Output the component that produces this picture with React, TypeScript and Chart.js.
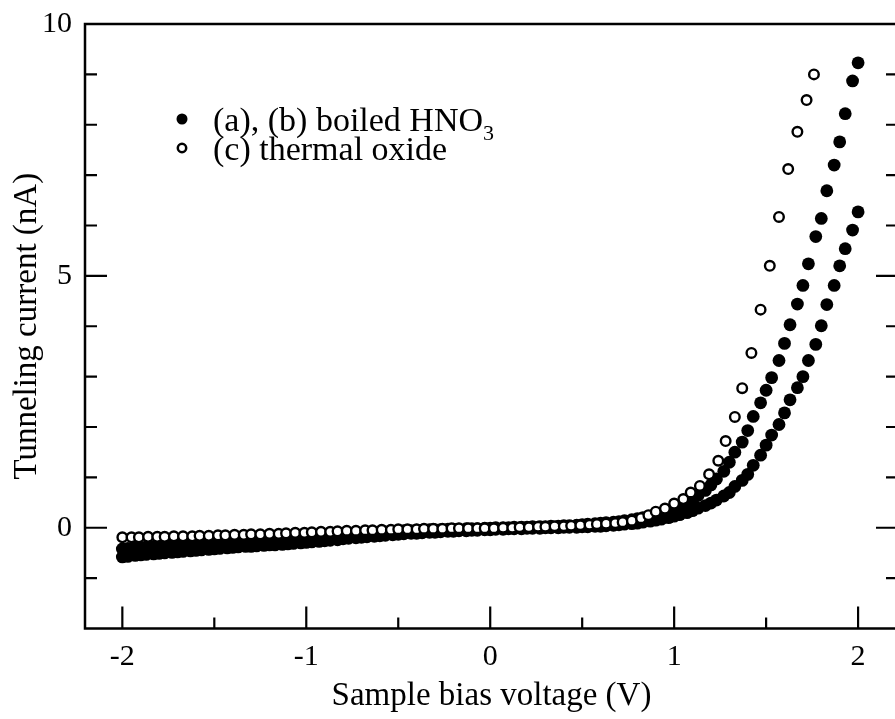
import React, { useEffect, useRef } from "react";
import { Chart, registerables } from "chart.js";

Chart.register(...registerables);

// ---------- data ----------
const X_FILLED = [
  -2.0, -1.97, -1.93, -1.9, -1.87, -1.83, -1.8, -1.77, -1.73, -1.7,
  -1.67, -1.63, -1.6, -1.57, -1.53, -1.5, -1.47, -1.43, -1.4, -1.37,
  -1.33, -1.3, -1.27, -1.23, -1.2, -1.17, -1.13, -1.1, -1.07, -1.03,
  -1.0, -0.97, -0.93, -0.9, -0.87, -0.83, -0.8, -0.77, -0.73, -0.7,
  -0.67, -0.63, -0.6, -0.57, -0.53, -0.5, -0.47, -0.43, -0.4, -0.37,
  -0.33, -0.3, -0.27, -0.23, -0.2, -0.17, -0.13, -0.1, -0.07, -0.03,
  0.0, 0.03, 0.07, 0.1, 0.13, 0.17, 0.2, 0.23, 0.27, 0.3,
  0.33, 0.37, 0.4, 0.43, 0.47, 0.5, 0.53, 0.57, 0.6, 0.63,
  0.67, 0.7, 0.73, 0.77, 0.8, 0.83, 0.87, 0.9, 0.93, 0.97,
  1.0, 1.03, 1.07, 1.1, 1.13, 1.17, 1.2, 1.23, 1.27, 1.3,
  1.33, 1.37, 1.4, 1.43, 1.47, 1.5, 1.53, 1.57, 1.6, 1.63,
  1.67, 1.7, 1.73, 1.77, 1.8, 1.83, 1.87, 1.9, 1.93, 1.97, 2.0,
];

// (a) boiled HNO3, upper branch
const Y_A = [
  -0.42, -0.41, -0.4, -0.39, -0.38, -0.37, -0.36, -0.35, -0.35, -0.34,
  -0.33, -0.32, -0.31, -0.31, -0.3, -0.29, -0.28, -0.28, -0.27, -0.26,
  -0.26, -0.25, -0.24, -0.24, -0.23, -0.22, -0.22, -0.21, -0.2, -0.2,
  -0.19, -0.18, -0.18, -0.17, -0.16, -0.15, -0.14, -0.13, -0.12, -0.11,
  -0.1, -0.09, -0.08, -0.08, -0.07, -0.07, -0.06, -0.06, -0.05, -0.05,
  -0.04, -0.04, -0.04, -0.03, -0.03, -0.03, -0.02, -0.02, -0.02, -0.01,
  -0.01, 0.0, 0.0, 0.0, 0.01, 0.01, 0.01, 0.02, 0.02, 0.02,
  0.03, 0.03, 0.04, 0.04, 0.05, 0.06, 0.07, 0.08, 0.09, 0.1,
  0.11, 0.12, 0.14, 0.16, 0.18, 0.2, 0.23, 0.26, 0.29, 0.33,
  0.38, 0.43, 0.49, 0.56, 0.64, 0.74, 0.85, 0.97, 1.12, 1.3,
  1.5, 1.7, 1.93, 2.21, 2.48, 2.73, 2.98, 3.32, 3.66, 4.03,
  4.44, 4.81, 5.24, 5.78, 6.14, 6.69, 7.2, 7.66, 8.22, 8.87, 9.23,
];

// (b) boiled HNO3, lower branch
const Y_B = [
  -0.58, -0.57, -0.55, -0.54, -0.53, -0.52, -0.51, -0.5, -0.49, -0.48,
  -0.47, -0.46, -0.45, -0.44, -0.43, -0.42, -0.41, -0.4, -0.39, -0.38,
  -0.37, -0.37, -0.36, -0.35, -0.34, -0.34, -0.33, -0.32, -0.31, -0.3,
  -0.29, -0.28, -0.27, -0.26, -0.25, -0.24, -0.22, -0.21, -0.2, -0.19,
  -0.18, -0.17, -0.16, -0.15, -0.14, -0.13, -0.12, -0.11, -0.11, -0.1,
  -0.09, -0.09, -0.08, -0.07, -0.07, -0.06, -0.06, -0.05, -0.05, -0.04,
  -0.04, -0.03, -0.03, -0.02, -0.02, -0.02, -0.01, -0.01, -0.01, 0.0,
  0.0, 0.0, 0.01, 0.01, 0.01, 0.02, 0.02, 0.03, 0.03, 0.04,
  0.05, 0.06, 0.07, 0.08, 0.09, 0.11, 0.13, 0.15, 0.17, 0.2,
  0.23, 0.26, 0.3, 0.34, 0.39, 0.44, 0.49, 0.55, 0.63, 0.7,
  0.82, 0.94, 1.06, 1.24, 1.44, 1.64, 1.84, 2.05, 2.28, 2.54,
  2.78, 3.0, 3.32, 3.64, 4.01, 4.43, 4.81, 5.2, 5.54, 5.91, 6.27,
];

const X_OPEN = [
  -2.0, -1.95, -1.91, -1.86, -1.81, -1.77, -1.72, -1.67, -1.62, -1.58,
  -1.53, -1.48, -1.44, -1.39, -1.34, -1.3, -1.25, -1.2, -1.15, -1.11,
  -1.06, -1.01, -0.97, -0.92, -0.87, -0.83, -0.78, -0.73, -0.68, -0.64,
  -0.59, -0.54, -0.5, -0.45, -0.4, -0.36, -0.31, -0.26, -0.21, -0.17,
  -0.12, -0.07, -0.03, 0.02, 0.07, 0.12, 0.16, 0.21, 0.26, 0.3,
  0.35, 0.4, 0.44, 0.49, 0.54, 0.58, 0.63, 0.68, 0.72, 0.77,
  0.82, 0.86, 0.9, 0.95, 1.0, 1.05, 1.09, 1.14, 1.19, 1.24,
  1.28, 1.33, 1.37, 1.42, 1.47, 1.52, 1.57, 1.62, 1.67, 1.72,
  1.76,
];

// (c) thermal oxide
const Y_C = [
  -0.19, -0.19, -0.19, -0.18, -0.18, -0.18, -0.17, -0.17, -0.17, -0.16,
  -0.16, -0.15, -0.15, -0.14, -0.14, -0.13, -0.13, -0.12, -0.12, -0.11,
  -0.1, -0.1, -0.09, -0.08, -0.08, -0.07, -0.06, -0.06, -0.05, -0.05,
  -0.04, -0.04, -0.03, -0.03, -0.03, -0.02, -0.02, -0.02, -0.01, -0.01,
  -0.01, -0.01, -0.01, -0.01, 0.0, 0.0, 0.01, 0.01, 0.02, 0.02,
  0.03, 0.03, 0.04, 0.05, 0.06, 0.07, 0.08, 0.09, 0.11, 0.14,
  0.19, 0.25, 0.32, 0.38, 0.48, 0.57, 0.7, 0.83, 1.06, 1.33,
  1.72, 2.2, 2.77, 3.47, 4.33, 5.2, 6.17, 7.12, 7.86, 8.49,
  9.0,
];

const X_TICK_LABELS = [-2, -1, 0, 1, 2];
const Y_TICK_LABELS = [0, 5, 10];
const X_MINOR_STEP = 0.5;
const Y_MINOR_STEP = 1;
const X_MIN = -2.203;
const X_MAX = 2.217;
const Y_MIN = -2;
const Y_MAX = 10;

const X_TITLE = "Sample bias voltage (V)";
const Y_TITLE = "Tunneling current (nA)";
const LEGEND_A = "(a), (b) boiled HNO";
const LEGEND_A_SUB = "3";
const LEGEND_C = "(c) thermal oxide";

const FONT = "'Liberation Serif', 'Times New Roman', serif";

function toPoints(xs: number[], ys: number[]) {
  return xs.map((x, i) => ({ x, y: ys[i] }));
}

const frameAndLegend = {
  id: "frameAndLegend",
  beforeDatasetsDraw(chart: any) {
    const { ctx, chartArea, scales } = chart;
    const { left, right, top, bottom } = chartArea;
    const xs = scales.x;
    const ys = scales.y;
    ctx.save();
    ctx.strokeStyle = "#000";
    ctx.lineWidth = 2.5;
    ctx.beginPath();
    ctx.rect(left, top, right - left, bottom - top);
    ctx.stroke();

    ctx.lineWidth = 2.2;
    // x ticks (inward from bottom)
    for (let v = Math.ceil(X_MIN / X_MINOR_STEP) * X_MINOR_STEP; v <= X_MAX + 1e-9; v += X_MINOR_STEP) {
      const major = Math.abs(v - Math.round(v)) < 1e-6;
      const px = xs.getPixelForValue(v);
      const len = major ? 22 : 11;
      ctx.beginPath();
      ctx.moveTo(px, bottom);
      ctx.lineTo(px, bottom - len);
      ctx.stroke();
    }
    // y ticks (inward, left and right)
    for (let v = Y_MIN + Y_MINOR_STEP; v <= Y_MAX - 1e-9; v += Y_MINOR_STEP) {
      const major = Math.abs(v % 5) < 1e-6;
      const py = ys.getPixelForValue(v);
      const len = major ? 22 : 12;
      ctx.beginPath();
      ctx.moveTo(left, py);
      ctx.lineTo(left + len, py);
      ctx.moveTo(right, py);
      ctx.lineTo(right - len, py);
      ctx.stroke();
    }
    ctx.restore();
  },
  afterDraw(chart: any) {
    const { ctx, chartArea } = chart;
    const mx = chartArea.left + 97;
    const y1 = chartArea.top + 95;
    const y2 = chartArea.top + 124;
    const tx = chartArea.left + 128;
    ctx.save();
    ctx.fillStyle = "#000";
    ctx.strokeStyle = "#000";
    ctx.beginPath();
    ctx.arc(mx, y1, 5.5, 0, Math.PI * 2);
    ctx.fill();
    ctx.lineWidth = 2.5;
    ctx.beginPath();
    ctx.arc(mx, y2, 4.2, 0, Math.PI * 2);
    ctx.fillStyle = "#fff";
    ctx.fill();
    ctx.stroke();
    ctx.fillStyle = "#000";
    ctx.font = `34px ${FONT}`;
    ctx.textBaseline = "alphabetic";
    ctx.textAlign = "left";
    ctx.fillText(LEGEND_A, tx, y1 + 12);
    const w = ctx.measureText(LEGEND_A).width;
    ctx.font = `22px ${FONT}`;
    ctx.fillText(LEGEND_A_SUB, tx + w, y1 + 21);
    ctx.font = `34px ${FONT}`;
    ctx.fillText(LEGEND_C, tx, y2 + 12);
    ctx.restore();
  },
};

export default function App() {
  const ref = useRef<HTMLCanvasElement | null>(null);

  useEffect(() => {
    if (!ref.current) return;
    const chart = new Chart(ref.current, {
      type: "scatter",
      data: {
        datasets: [
          {
            label: "(c) thermal oxide",
            data: toPoints(X_OPEN, Y_C),
            order: 0,
            pointRadius: 4.8,
            pointBorderWidth: 2.4,
            pointBackgroundColor: "#fff",
            pointBorderColor: "#000",
            showLine: false,
          },
          {
            label: "(a) boiled HNO3",
            data: toPoints(X_FILLED, Y_A),
            order: 1,
            pointRadius: 6.4,
            pointBorderWidth: 0,
            pointBackgroundColor: "#000",
            pointBorderColor: "#000",
            showLine: false,
          },
          {
            label: "(b) boiled HNO3",
            data: toPoints(X_FILLED, Y_B),
            order: 2,
            pointRadius: 6.4,
            pointBorderWidth: 0,
            pointBackgroundColor: "#000",
            pointBorderColor: "#000",
            showLine: false,
          },
        ],
      },
      options: {
        animation: false,
        responsive: false,
        devicePixelRatio: 1,
        layout: { autoPadding: false, padding: { top: 24, left: 0, right: 0, bottom: 0 } },
        plugins: {
          legend: { display: false },
          tooltip: { enabled: false },
        },
        scales: {
          x: {
            type: "linear",
            min: X_MIN,
            max: X_MAX,
            grid: { display: false, drawTicks: false },
            border: { display: false },
            afterBuildTicks: (s: any) => {
              s.ticks = X_TICK_LABELS.map((v) => ({ value: v }));
            },
            ticks: {
              autoSkip: false,
              maxRotation: 0,
              padding: 11,
              color: "#000",
              font: { family: FONT, size: 30 },
              callback: (v: any) => String(Math.round(Number(v))),
            },
            title: {
              display: true,
              text: X_TITLE,
              color: "#000",
              font: { family: FONT, size: 33 },
              padding: { top: 0, bottom: 3 },
            },
            afterFit: (s: any) => {
              s.height = 90.5;
              s.paddingLeft = 0;
              s.paddingRight = 0;
            },
          },
          y: {
            type: "linear",
            min: Y_MIN,
            max: Y_MAX,
            grid: { display: false, drawTicks: false },
            border: { display: false },
            afterBuildTicks: (s: any) => {
              s.ticks = Y_TICK_LABELS.map((v) => ({ value: v }));
            },
            ticks: {
              autoSkip: false,
              padding: 13,
              color: "#000",
              font: { family: FONT, size: 30 },
              callback: (v: any) => String(Math.round(Number(v))),
            },
            title: {
              display: true,
              text: Y_TITLE,
              color: "#000",
              font: { family: FONT, size: 33 },
              padding: { top: 8, bottom: 0 },
            },
            afterFit: (s: any) => {
              s.width = 85;
              s.paddingTop = 0;
              s.paddingBottom = 0;
            },
          },
        },
      },
      plugins: [frameAndLegend],
    });
    return () => chart.destroy();
  }, []);

  return (
    <div
      style={{
        position: "fixed",
        left: 0,
        top: 0,
        width: 895,
        height: 719,
        overflow: "hidden",
        background: "#fff",
      }}
    >
      <canvas ref={ref} width={898} height={719} style={{ display: "block", width: 898, height: 719 }} />
    </div>
  );
}
